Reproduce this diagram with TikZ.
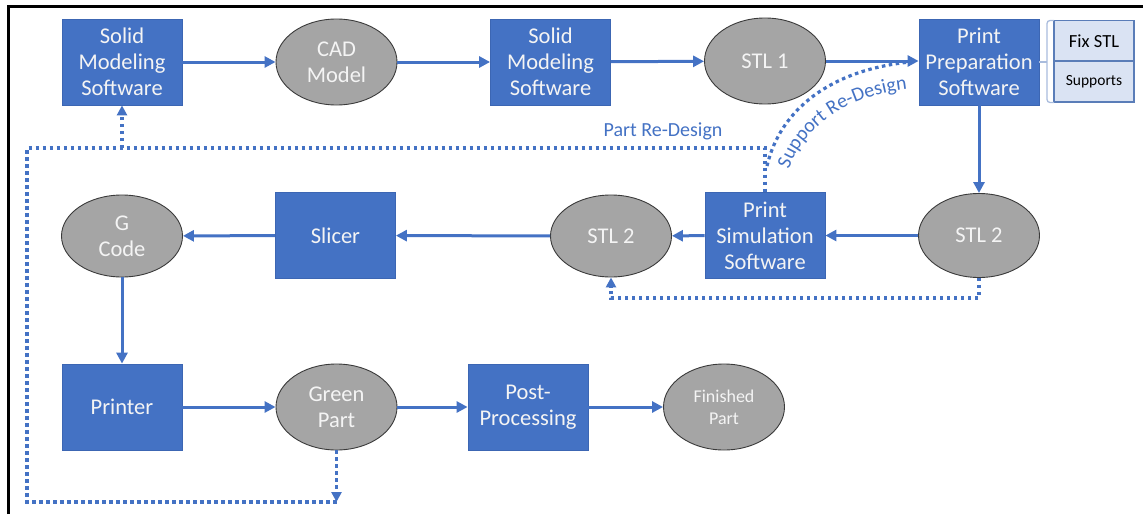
\documentclass[tikz,border=0pt]{standalone}
\usepackage{fontspec}
\setmainfont{Carlito}
\usetikzlibrary{shapes.geometric,arrows.meta,decorations.text}
\definecolor{flowblue}{HTML}{4472C4}
\definecolor{boxedge}{HTML}{3C66B3}
\definecolor{stategray}{HTML}{A5A5A5}
\definecolor{stateedge}{HTML}{3A3A3A}
\definecolor{paleblue}{HTML}{DAE3F3}
\definecolor{paleedge}{HTML}{5A7DB8}
\definecolor{bracketedge}{HTML}{A9BCDD}
\definecolor{lighttext}{HTML}{F4F4F4}
\tikzset{
  stepbox/.style={rectangle, draw=boxedge, line width=0.8pt, fill=flowblue,
    minimum width=120pt, minimum height=86pt, inner sep=0pt, align=center,
    text=lighttext, font=\fontsize{22.5}{26}\selectfont},
  state/.style={ellipse, draw=stateedge, line width=0.9pt, fill=stategray,
    minimum width=121pt, minimum height=86pt, inner sep=0pt, align=center,
    text=lighttext, font=\fontsize{22.5}{26}\selectfont},
  sidebox/.style={rectangle, draw=paleedge, line width=1.2pt, fill=paleblue,
    minimum width=80pt, minimum height=41pt, inner sep=0pt, text=black},
  flow/.style={draw=flowblue, line width=3pt,
    -{Triangle[length=11pt,width=11pt]}},
  loop/.style={draw=flowblue, line width=3.2pt, dash pattern=on 3.5pt off 3.5pt},
  looparrow/.style={loop, -{Triangle[length=10pt,width=10pt]}},
  tag/.style={text=flowblue, font=\fontsize{20}{24}\selectfont, inner sep=0pt}
}
\begin{document}
\begin{tikzpicture}[x=1pt,y=-1pt]
\useasboundingbox (0,0) rectangle (1143,514);
% frame edges
\draw[black, line width=3pt] (8,514) -- (8,6.5) -- (1143,6.5);

% first row
\node[stepbox] (sms1) at (122,62) {Solid\\Modeling\\Software};
\node[state] (cad) at (336.5,62) {CAD\\Model};
\node[stepbox] (sms2) at (550.5,62) {Solid\\Modeling\\Software};
\node[state] (stl1) at (765,61) {STL 1};
\node[stepbox] (prep) at (979,62) {Print\\Preparation\\Software};
\node[sidebox, font=\fontsize{18.5}{20}\selectfont] (fix) at (1094,41) {Fix STL};
\node[sidebox, font=\fontsize{15.5}{18}\selectfont] (sup) at (1094,81.5) {Supports};

% bracket grouping the preparation tasks
\coordinate (brk) at (1047,62);
\draw[bracketedge, line width=1.3pt, rounded corners=3pt]
  (1054,20.5) -- (1047,20.5) -- (1047,102.5) -- (1054,102.5);
\draw[bracketedge, line width=1.3pt] (prep.east) -- (brk);

% second row
\node[state, minimum height=82pt] (gcode) at (122,236) {G\\Code};
\node[stepbox] (slicer) at (335.5,235.5) {Slicer};
\node[state, minimum height=82pt] (stl2a) at (611,236) {STL 2};
\node[stepbox] (sim) at (765,235.5) {Print\\Simulation\\Software};
\node[state, minimum height=84pt] (stl2b) at (979,235.5) {STL 2};

% third row
\node[stepbox] (printer) at (122,407) {Printer};
\node[state] (green) at (336.5,407) {Green\\Part};
\node[stepbox] (post) at (528,407) {Post-\\Processing};
\node[state, font=\fontsize{18}{22}\selectfont] (fin) at (724,407) {Finished\\Part};

% main flow
\draw[flow] (sms1) -- (cad);
\draw[flow] (cad) -- (sms2);
\draw[flow] (sms2) -- (stl1);
\draw[flow] (stl1.east) -- (prep.west |- stl1.east);
\draw[flow] (prep) -- (stl2b);
\draw[flow] (stl2b) -- (sim);
\draw[flow] (sim) -- (stl2a);
\draw[flow] (stl2a) -- (slicer);
\draw[flow] (slicer) -- (gcode);
\draw[flow] (gcode) -- (printer);
\draw[flow] (printer) -- (green);
\draw[flow] (green) -- (post);
\draw[flow] (post) -- (fin);

% simulation bypass loop
\coordinate (simloop) at (979,298);
\draw[looparrow] (stl2b.south) -- (simloop) -| (stl2a.south);

% part re-design loop
\coordinate (gdrop) at (336.5,502);
\coordinate (cornerbl) at (27,502);
\coordinate (cornertl) at (27,148);
\coordinate (cornertr) at (765,148);
\draw[looparrow] (green.south) -- (gdrop);
\draw[loop] (gdrop) -- (cornerbl) -- (cornertl) -- (cornertr) -- (sim.north);
\draw[looparrow] (sms1.south |- cornertl) -- (sms1.south);
\node[tag] (partlbl) at (663,131) {Part Re-Design};

% support re-design branch, label set along an arc under it
\coordinate (sjoin) at (767,166);
\coordinate (sarrive) at (910,62);
\draw[loop] (sjoin) .. controls (780,110) and (830,70) .. (sarrive);
\coordinate (sbase) at (788,172);
\coordinate (send) at (910,89);
\path[decorate, decoration={text along path, text align=center,
    text={|\fontsize{20}{24}\selectfont\color{flowblue}|Support Re-Design}}]
  (sbase) .. controls (803,125) and (850,95) .. (send);
\end{tikzpicture}
\end{document}
